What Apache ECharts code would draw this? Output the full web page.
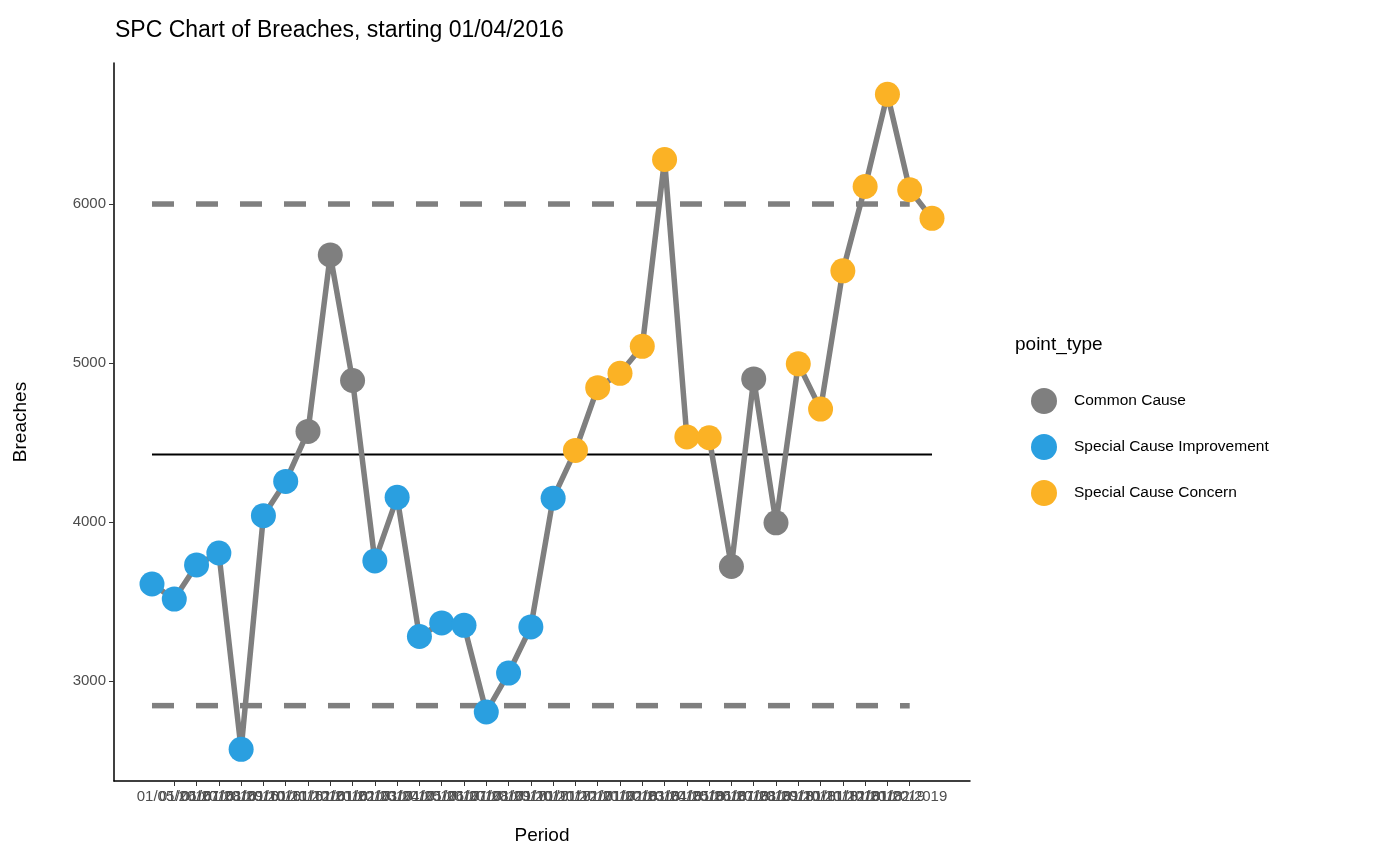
<!DOCTYPE html>
<html><head><meta charset="utf-8">
<script src="https://cdn.jsdelivr.net/npm/echarts@6/dist/echarts.min.js"></script>
<style>html,body{margin:0;padding:0;background:#fff}#c{width:1400px;height:866px}</style>
</head><body><div id="c"></div>
<script>
const periods=[];
for(let i=0;i<36;i++){const m=(3+i)%12+1,y=2016+Math.floor((3+i)/12);periods.push('01/'+String(m).padStart(2,'0')+'/'+y);}
const breaches=[3610,3515,3730,3805,2570,4040,4255,4570,5680,4890,3755,4155,3280,3365,3350,2805,3050,3340,4150,4450,4845,4935,5105,6280,4535,4530,3720,4900,3995,4995,4710,5580,6110,6690,6090,5910];
const pointType=['I','I','I','I','I','I','I','C','C','C','I','I','I','I','I','I','I','I','I','X','X','X','X','X','X','X','C','C','C','X','X','X','X','X','X','X'];
const meanVal=4425, ucl=6000, lcl=2845;
const yTicks=[3000,4000,5000,6000];
const types=[['C','Common Cause','#7f7f7f'],['I','Special Cause Improvement','#2a9fe0'],['X','Special Cause Concern','#fbb225']];
const idx=periods.map((_,i)=>i+1);
const F='Liberation Sans, Arial, sans-serif';
const series=[
 {type:'line',data:idx.map(i=>[i,breaches[i-1]]),symbol:'none',lineStyle:{color:'#7f7f7f',width:5.5},z:2},
 {type:'line',data:[[1,meanVal],[36,meanVal]],symbol:'none',lineStyle:{color:'#000',width:2},z:1},
 {type:'line',data:[[1,ucl],[35,ucl]],symbol:'none',lineStyle:{color:'#7f7f7f',width:5.5,type:[22,22]},z:1},
 {type:'line',data:[[1,lcl],[35,lcl]],symbol:'none',lineStyle:{color:'#7f7f7f',width:5.5,type:[22,22]},z:1}
];
types.forEach(([k,n,c])=>series.push({type:'scatter',name:n,symbolSize:25,itemStyle:{color:c,opacity:1},z:3,
 data:idx.filter(i=>pointType[i-1]===k).map(i=>[i,breaches[i-1]])}));
const ch=echarts.init(document.getElementById('c'));
ch.setOption({
 animation:false,
 title:{text:'SPC Chart of Breaches, starting 01/04/2016',left:110,top:14,textStyle:{fontFamily:F,fontSize:23,fontWeight:'normal',color:'#000'}},
 grid:{left:114,right:430,top:63,bottom:85},
 xAxis:{type:'value',min:1-38/22.29,max:36+38/22.29,name:'Period',nameLocation:'middle',nameGap:45,
  nameTextStyle:{fontFamily:F,fontSize:19,color:'#000'},
  axisLine:{onZero:false,lineStyle:{color:'#000',width:1.5}},
  axisTick:{customValues:idx,length:5,lineStyle:{color:'#333'}},
  axisLabel:{customValues:idx,formatter:v=>periods[Math.round(v)-1]||'',fontFamily:F,fontSize:15,color:'#4d4d4d',hideOverlap:false,margin:8},
  splitLine:{show:false}},
 yAxis:{type:'value',min:2371,max:6887,name:'Breaches',nameLocation:'middle',nameGap:84,
  nameTextStyle:{fontFamily:F,fontSize:19,color:'#000'},
  axisLine:{show:true,onZero:false,lineStyle:{color:'#000',width:1.5}},
  axisTick:{show:true,customValues:yTicks,length:5,lineStyle:{color:'#333'}},
  axisLabel:{customValues:yTicks,formatter:v=>String(v),fontFamily:F,fontSize:15,color:'#4d4d4d',margin:8},
  splitLine:{show:false}},
 legend:{orient:'vertical',left:1026,top:383,itemWidth:26,itemHeight:26,itemGap:20,icon:'circle',
  data:types.map(t=>t[1]),textStyle:{fontFamily:F,fontSize:15.5,color:'#000',padding:[0,0,0,12]}},
 graphic:[{type:'text',left:1015,top:335,style:{text:'point_type',font:'19px '+F,fill:'#000'}}],
 series
});
</script></body></html>
